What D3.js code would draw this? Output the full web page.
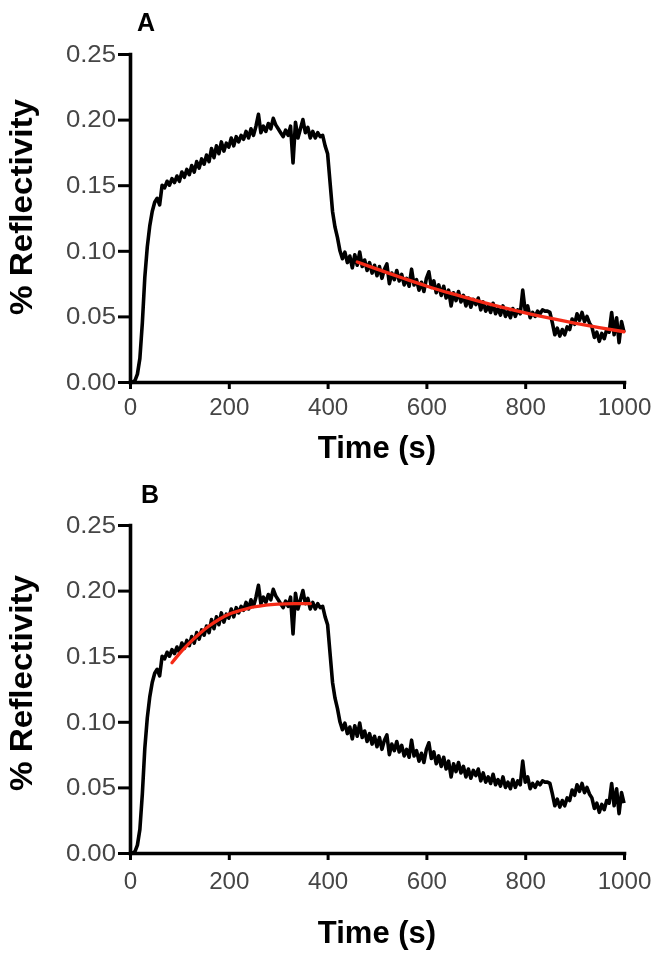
<!DOCTYPE html>
<html>
<head>
<meta charset="utf-8">
<script src="https://cdn.jsdelivr.net/npm/d3@7"></script>
<style>
  html, body { margin: 0; padding: 0; background: #fff; }
  svg { display: block; }
  text { font-family: "Liberation Sans", Arial, sans-serif; }
</style>
</head>
<body>
<svg id="chart" width="664" height="961"></svg>
<script>
// ---------------- data ----------------
const panelLabels = ["A", "B"];
const xTicks = [0, 200, 400, 600, 800, 1000];
const yTicks = [0.00, 0.05, 0.10, 0.15, 0.20, 0.25];
const xTitle = "Time (s)";
const yTitle = "% Reflectivity";

// measured trace (time in s)
const traceTime = [
  0,5,10,15,20,25,30,35,40,45,
  50,55,60,65,70,75,80,85,90,95,
  100,105,110,115,120,125,130,135,140,145,
  150,155,160,165,170,175,180,185,190,195,
  200,205,210,215,220,225,230,235,240,245,
  250,255,260,265,270,275,280,285,290,295,
  300,305,310,315,320,325,330,335,340,345,
  350,355,360,365,370,375,380,385,390,395,
  400,405,410,415,420,425,430,435,440,445,
  450,455,460,465,470,475,480,485,490,495,
  500,505,510,515,520,525,530,535,540,545,
  550,555,560,565,570,575,580,585,590,595,
  600,605,610,615,620,625,630,635,640,645,
  650,655,660,665,670,675,680,685,690,695,
  700,705,710,715,720,725,730,735,740,745,
  750,755,760,765,770,775,780,785,790,795,
  800,805,810,815,820,825,830,835,840,845,
  850,855,860,865,870,875,880,885,890,895,
  900,905,910,915,920,925,930,935,940,945,
  950,955,960,965,970,975,980,985,990,995,
  1000
];
const traceReflectivity = [
  0.000,0.000,0.001,0.006,0.018,0.045,0.080,0.103,0.119,0.130,
  0.137,0.140,0.135,0.150,0.148,0.153,0.150,0.155,0.152,0.157,
  0.153,0.160,0.156,0.162,0.158,0.165,0.160,0.168,0.163,0.170,
  0.166,0.173,0.168,0.178,0.171,0.180,0.174,0.183,0.176,0.182,
  0.179,0.186,0.180,0.187,0.183,0.188,0.185,0.191,0.186,0.193,
  0.188,0.195,0.204,0.190,0.195,0.191,0.197,0.193,0.201,0.196,
  0.193,0.190,0.187,0.192,0.188,0.195,0.167,0.198,0.186,0.193,
  0.200,0.190,0.194,0.186,0.191,0.186,0.190,0.187,0.188,0.180,
  0.174,0.152,0.130,0.118,0.110,0.100,0.094,0.099,0.091,0.096,
  0.087,0.097,0.089,0.099,0.088,0.093,0.085,0.091,0.083,0.089,
  0.081,0.088,0.079,0.086,0.090,0.075,0.083,0.078,0.085,0.077,
  0.082,0.074,0.079,0.073,0.086,0.074,0.078,0.070,0.076,0.069,
  0.079,0.084,0.072,0.077,0.068,0.074,0.066,0.073,0.064,0.070,
  0.058,0.068,0.062,0.069,0.061,0.066,0.058,0.064,0.057,0.063,
  0.059,0.064,0.055,0.061,0.054,0.058,0.053,0.060,0.052,0.056,
  0.051,0.058,0.050,0.054,0.049,0.056,0.050,0.055,0.052,0.070,
  0.054,0.058,0.049,0.053,0.050,0.054,0.052,0.055,0.054,0.054,
  0.053,0.045,0.036,0.041,0.035,0.040,0.036,0.042,0.040,0.048,
  0.044,0.052,0.047,0.053,0.046,0.050,0.045,0.042,0.034,0.038,
  0.031,0.037,0.033,0.040,0.038,0.053,0.036,0.049,0.030,0.046,
  0.038
];

// fitted curve, panel A (dissociation)
const fitATime = [460, 500, 550, 600, 650, 700, 750, 800, 850, 900, 950, 1000];
const fitAValue = [0.0915, 0.0860, 0.0795, 0.0732, 0.0675, 0.0622, 0.0572, 0.0527, 0.0486, 0.0449, 0.0415, 0.0383];

// fitted curve, panel B (association)
const fitBTime = [85, 100, 120, 140, 160, 180, 200, 225, 250, 275, 300, 330, 365];
const fitBValue = [0.145, 0.152, 0.160, 0.167, 0.173, 0.178, 0.182, 0.185, 0.1875, 0.189, 0.1897, 0.190, 0.190];

// ---------------- layout ----------------
const panels = [
  { label: panelLabels[0], top: 54, bottom: 382, fitT: fitATime, fitV: fitAValue,
    labelY: 31, labelX: 146, xPad: 10, xTitleY: 458, yTitleY: 207 },
  { label: panelLabels[1], top: 525, bottom: 853, fitT: fitBTime, fitV: fitBValue,
    labelY: 503, labelX: 150, xPad: 13, xTitleY: 943, yTitleY: 683 }
];
const left = 130, right = 624;

const svg = d3.select("#chart");
const defs = svg.append("defs");
defs.append("filter").attr("id", "soft")
  .attr("x", "-5%").attr("y", "-5%").attr("width", "110%").attr("height", "110%")
  .append("feGaussianBlur").attr("stdDeviation", 0.55);

const root = svg.append("g").attr("filter", "url(#soft)");
const trace = traceTime.map((t, i) => [t, traceReflectivity[i]]);

function stretch(sel, factor) {
  sel.each(function () {
    const w = this.getComputedTextLength();
    d3.select(this).attr("textLength", w * factor).attr("lengthAdjust", "spacingAndGlyphs");
  });
}

panels.forEach(p => {
  const x = d3.scaleLinear().domain([0, 1000]).range([left, right]);
  const y = d3.scaleLinear().domain([0, 0.25]).range([p.bottom, p.top]);
  const g = root.append("g");

  const line = d3.line().x(d => x(d[0])).y(d => y(d[1]));

  g.append("path")
    .datum(trace)
    .attr("fill", "none")
    .attr("stroke", "#000")
    .attr("stroke-width", 3.6)
    .attr("stroke-linejoin", "round")
    .attr("d", line);

  const fit = p.fitT.map((t, i) => [t, p.fitV[i]]);
  g.append("path")
    .datum(fit)
    .attr("fill", "none")
    .attr("stroke", "#f52a18")
    .attr("stroke-width", 3.3)
    .attr("stroke-linecap", "round")
    .attr("d", d3.line().x(d => x(d[0])).y(d => y(d[1])).curve(d3.curveMonotoneX));

  // axes
  const xAxis = d3.axisBottom(x).tickValues(xTicks).tickSize(7).tickSizeOuter(0).tickPadding(p.xPad)
    .tickFormat(d3.format("d"));
  const yAxis = d3.axisLeft(y).tickValues(yTicks).tickSize(12).tickSizeOuter(0).tickPadding(2)
    .tickFormat(d3.format(".2f"));

  const gx = g.append("g").attr("transform", `translate(0,${p.bottom})`).call(xAxis);
  const gy = g.append("g").attr("transform", `translate(${left},0)`).call(yAxis);
  [gx, gy].forEach(a => {
    a.selectAll("path.domain").attr("stroke", "#000").attr("stroke-width", 3.6).attr("stroke-linecap", "square");
    a.selectAll(".tick line").attr("stroke", "#000").attr("stroke-width", 3);
    a.selectAll(".tick text").attr("fill", "#454545").style("font-size", "23px")
      .style("font-family", '"Liberation Sans", Arial, sans-serif');
  });
  stretch(gx.selectAll(".tick text"), 1.05);
  stretch(gy.selectAll(".tick text"), 1.12);

  // titles
  g.append("text")
    .attr("x", p.labelX).attr("y", p.labelY)
    .attr("text-anchor", "middle")
    .style("font-size", "25px").style("font-weight", "bold")
    .text(p.label);

  g.append("text")
    .attr("x", (left + right) / 2).attr("y", p.xTitleY)
    .attr("text-anchor", "middle")
    .style("font-size", "31px").style("font-weight", "bold")
    .text(xTitle);

  const yt = g.append("text")
    .attr("transform", `translate(32,${p.yTitleY}) rotate(-90)`)
    .attr("text-anchor", "middle")
    .style("font-size", "32px").style("font-weight", "bold")
    .text(yTitle);
  yt.attr("textLength", 216).attr("lengthAdjust", "spacingAndGlyphs");
});
</script>
</body>
</html>
